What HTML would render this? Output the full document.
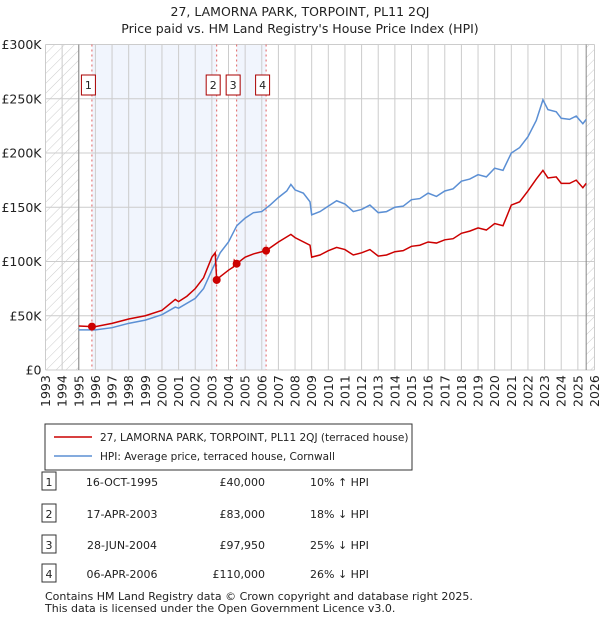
<!DOCTYPE html>
<html><head><meta charset="utf-8"><style>
body{margin:0;background:#fff;font-family:"DejaVu Sans","Liberation Sans",sans-serif;}
svg text{font-family:"DejaVu Sans","Liberation Sans",sans-serif;fill:#222}
</style></head><body>
<svg id="c" width="600" height="620" xmlns="http://www.w3.org/2000/svg">
<defs><pattern id="hatch" width="7" height="7" patternUnits="userSpaceOnUse" patternTransform="rotate(45)"><line x1="0" y1="0" x2="0" y2="7" stroke="#ccc" stroke-width="1"/></pattern></defs>
<text x="300" y="16" text-anchor="middle" font-size="12.5">27, LAMORNA PARK, TORPOINT, PL11 2QJ</text>
<text x="300" y="33" text-anchor="middle" font-size="12.5">Price paid vs. HM Land Registry's House Price Index (HPI)</text>
<g id="plot"></g>
<rect x="45" y="424" width="367" height="46" fill="#fff" stroke="#333"/>
<line x1="54" y1="437" x2="92" y2="437" stroke="#cc0000" stroke-width="1.5"/>
<text x="100" y="441" font-size="10.5">27, LAMORNA PARK, TORPOINT, PL11 2QJ (terraced house)</text>
<line x1="54" y1="456" x2="92" y2="456" stroke="#5b8fd4" stroke-width="1.5"/>
<text x="100" y="460" font-size="10.5">HPI: Average price, terraced house, Cornwall</text>
<g id="tbl" font-size="11"></g>
<text x="45" y="600" font-size="11" fill="#444">Contains HM Land Registry data © Crown copyright and database right 2025.</text>
<text x="45" y="612" font-size="11" fill="#444">This data is licensed under the Open Government Licence v3.0.</text>
</svg>
<script>
const hpiT=[1995,1996,1997,1998,1999,2000,2000.8,2001,2002,2002.5,2003,2003.5,2004,2004.5,2005,2005.5,2006,2006.5,2007,2007.5,2007.75,2008,2008.5,2008.9,2009,2009.5,2010,2010.5,2011,2011.5,2012,2012.5,2013,2013.5,2014,2014.5,2015,2015.5,2016,2016.5,2017,2017.5,2018,2018.5,2019,2019.5,2020,2020.5,2021,2021.5,2022,2022.5,2022.9,2023.2,2023.7,2024,2024.5,2024.9,2025.3,2025.5];
const hpiV=[37,37,39,43,46,51,58,57,66,75,92,108,118,133,140,145,146,152,159,165,171,166,163,155,143,146,151,156,153,146,148,152,145,146,150,151,157,158,163,160,165,167,174,176,180,178,186,184,200,205,215,230,249,240,238,232,231,234,227,231];
const priceT=[1995,1995.8,1996,1997,1998,1999,2000,2000.8,2001,2001.5,2002,2002.5,2003,2003.2,2003.29,2003.5,2004,2004.3,2004.35,2004.49,2005,2005.5,2006,2006.26,2007,2007.75,2008,2008.9,2009,2009.5,2010,2010.5,2011,2011.5,2012,2012.5,2013,2013.5,2014,2014.5,2015,2015.5,2016,2016.5,2017,2017.5,2018,2018.5,2019,2019.5,2020,2020.5,2021,2021.5,2022,2022.5,2022.9,2023.2,2023.7,2024,2024.5,2024.9,2025.3,2025.5];
const priceV=[40.5,40,40,43,47,50,55,65,63,68,75,85,104,108,83,86,92,95,101,98,104,107,109,110,118,125,122,115,104,106,110,113,111,106,108,111,105,106,109,110,114,115,118,117,120,121,126,128,131,129,135,133,152,155,165,176,184,177,178,172,172,175,168,172];
const saleT=[1995.79,2003.29,2004.49,2006.26];
const saleV=[40,83,97.95,110];
const saleLabels=["1","2","3","4"];
const saleDates=["16-OCT-1995","17-APR-2003","28-JUN-2004","06-APR-2006"];
const salePrices=["£40,000","£83,000","£97,950","£110,000"];
const saleHpi=["10% ↑ HPI","18% ↓ HPI","25% ↓ HPI","26% ↓ HPI"];
const yTicks=[0,50,100,150,200,250,300];
const yLabels=["£0","£50K","£100K","£150K","£200K","£250K","£300K"];
const X0=45.5,X1=594.5,Y0=370,Y1=44.5;
const x=t=>X0+(t-1993)/33*(X1-X0);
const y=v=>Y0-v/300*(Y0-Y1);
const NS="http://www.w3.org/2000/svg";
const g=document.getElementById('plot');
function mk(tag,at,par){const e=document.createElementNS(NS,tag);for(const k in at)e.setAttribute(k,at[k]);(par||g).appendChild(e);return e;}
let e;
e=mk('rect',{x:X0,y:Y1,width:X1-X0,height:Y0-Y1,fill:'#fff'});


e=mk('rect',{x:x(saleT[0]),y:Y1,width:x(saleT[1])-x(saleT[0]),height:Y0-Y1,fill:'#f1f5fd'});


e=mk('rect',{x:x(saleT[2]),y:Y1,width:x(saleT[3])-x(saleT[2]),height:Y0-Y1,fill:'#f1f5fd'});


e=mk('rect',{x:X0,y:Y1,width:x(1995)-X0,height:Y0-Y1,fill:'url(#hatch)'});


e=mk('rect',{x:x(2025.5),y:Y1,width:X1-x(2025.5),height:Y0-Y1,fill:'url(#hatch)'});


for(let yr=1993;yr<=2026;yr++){
 e=mk('line',{x1:x(yr),x2:x(yr),y1:Y1,y2:Y0,stroke:'#ccc'});
 
 
 e=mk('text',{transform:`translate(${x(yr)+4.5},${Y0+37}) rotate(-90)`,'font-size':'12.5'});
 e.textContent=yr;
 
 
}
yTicks.forEach((v,i)=>{
 e=mk('line',{x1:X0,x2:X1,y1:y(v),y2:y(v),stroke:'#ccc'});
 
 
 e=mk('text',{x:X0-4,y:y(v)+4.5,'text-anchor':'end','font-size':'12.5'});
 e.textContent=yLabels[i];
 
 
});
e=mk('line',{x1:x(1995),x2:x(1995),y1:Y1,y2:Y0,stroke:'#888'});


e=mk('line',{x1:x(2025.5),x2:x(2025.5),y1:Y1,y2:Y0,stroke:'#888'});


saleT.forEach((t,i)=>{
 e=mk('line',{x1:x(t),x2:x(t),y1:Y1,y2:Y0,stroke:'#e06060','stroke-dasharray':'2,3'});
 
 
 e=mk('rect',{x:x(t)-10.5,y:75,width:14,height:20,fill:'#fff',stroke:'#aa0000'});
 
 
 e=mk('text',{x:x(t)-3.5,y:89,'text-anchor':'middle','font-size':'11'});
 e.textContent=saleLabels[i];
 
 
});
e=mk('polyline',{points:hpiT.map((t,i)=>x(t)+','+y(hpiV[i])).join(' '),fill:'none',stroke:'#5b8fd4','stroke-width':1.5});


e=mk('polyline',{points:priceT.map((t,i)=>x(t)+','+y(priceV[i])).join(' '),fill:'none',stroke:'#cc0000','stroke-width':1.5});


saleT.forEach((t,i)=>{
 e=mk('circle',{cx:x(t),cy:y(saleV[i]),r:4,fill:'#cc0000'});
 
 
});
const tb=document.getElementById('tbl');
const rowY=[483,515,546,575];
rowY.forEach((ry,i)=>{
 e=mk('rect',{x:42,y:ry-11,width:14,height:18,fill:'#fff',stroke:'#333'},tb);
 
 
 e=mk('text',{x:49,y:ry+3,'text-anchor':'middle'},tb);e.textContent=saleLabels[i];
 
 
 e=mk('text',{x:122,y:ry+3,'text-anchor':'middle'},tb);e.textContent=saleDates[i];
 
 
 e=mk('text',{x:265,y:ry+3,'text-anchor':'end'},tb);e.textContent=salePrices[i];
 
 
 e=mk('text',{x:310,y:ry+3},tb);e.textContent=saleHpi[i];
 
 
});
</script>
</body></html>
